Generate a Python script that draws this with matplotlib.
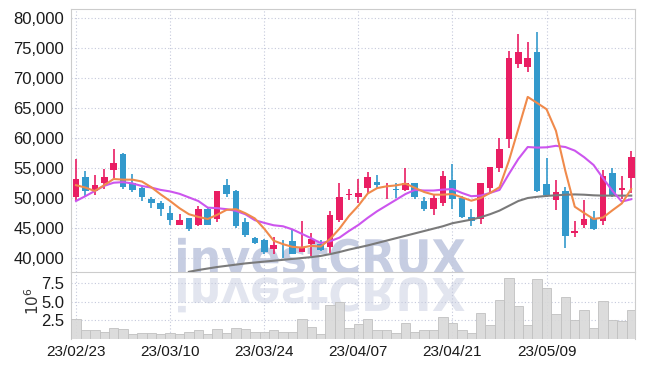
import numpy as np
import matplotlib.pyplot as plt
from matplotlib.textpath import TextPath
from matplotlib.patches import PathPatch
from matplotlib.font_manager import FontProperties
from matplotlib.transforms import Affine2D

plt.rcParams['font.family'] = ['Liberation Sans Narrow', 'Liberation Sans', 'DejaVu Sans']

# daily OHLC (KRW), 60 trading days from 23/02/23
opens = [50200, 53500, 51170, 52430, 54600, 57400, 52430, 51740, 49800, 49110,
         47460, 45510, 46710, 45570, 48150, 46500, 52200, 51170, 46030, 43290,
         42940, 41570, 42540, 42770, 41060, 42310, 42310, 41860, 46260, 50490,
         50200, 51690, 52640, 51850, 51460, 51400, 52470, 49550, 48150, 49100,
         53030, 49940, 46910, 46460, 51690, 55060, 59780, 72300, 71910, 74380,
         52300, 49610, 51120, 44100, 45450, 46690, 46120, 54160, 51350, 53370]
highs = [56500, 54500, 53860, 54770, 58140, 57450, 54030, 51900, 50200, 49460,
         48710, 47290, 46750, 48600, 48490, 51170, 53170, 51290, 46710, 43460,
         43170, 43570, 43000, 44600, 46200, 44140, 43060, 47800, 52430, 51570,
         53100, 54330, 53820, 52530, 52530, 55000, 52530, 50170, 50510, 54490,
         55620, 50400, 48200, 52580, 55200, 60000, 74440, 77300, 75960, 77700,
         56630, 53030, 51850, 46180, 49720, 47870, 54610, 55060, 53600, 57870]
lows = [49500, 50200, 50490, 51460, 53290, 51570, 51060, 49570, 48310, 47060,
        45570, 45500, 44430, 45340, 45460, 46030, 50140, 45000, 43570, 42310,
        40600, 40710, 40030, 40600, 41000, 40310, 41170, 40890, 46030, 49740,
        49170, 50840, 51690, 49890, 50000, 51120, 49890, 47870, 47250, 48710,
        48200, 46740, 45390, 45730, 51010, 54380, 58310, 71630, 70960, 51010,
        50170, 48030, 41740, 43480, 44940, 44720, 45510, 50170, 49890, 50840]
closes = [53200, 51100, 52200, 53570, 55910, 51910, 51400, 50200, 49110, 48090,
          46370, 46370, 44890, 48090, 45570, 51100, 50710, 45340, 43860, 42490,
          41060, 42200, 42430, 40710, 41630, 43170, 41340, 47230, 50200, 50710,
          50830, 53480, 52130, 51970, 51350, 52420, 50170, 48150, 50000, 53650,
          49830, 46850, 46240, 52470, 55170, 58200, 73370, 74330, 73370, 51120,
          50560, 51070, 43600, 44550, 46570, 44890, 53650, 50560, 51630, 56850]

# volume, millions of shares
volume = [2.72, 1.17, 1.17, 1.00, 1.53, 1.39, 0.73, 0.86, 0.86, 0.73,
          0.86, 0.73, 1.00, 1.17, 0.73, 1.39, 0.86, 1.53, 1.30, 1.00,
          1.00, 1.26, 1.00, 1.00, 2.72, 1.66, 0.73, 4.62, 4.98, 1.53,
          2.06, 2.72, 1.17, 1.26, 0.86, 2.19, 1.00, 1.17, 1.26, 2.99,
          2.19, 1.17, 0.86, 3.52, 1.92, 5.29, 8.16, 4.49, 1.92, 8.03,
          6.84, 3.30, 5.64, 2.50, 3.83, 1.53, 5.15, 2.50, 2.37, 3.96]

# moving average lines
ma_short = [52140, 51740, 51170, 52140, 53170, 53060, 53060, 52750, 51800, 50600,
            49500, 48300, 47300, 46850, 46500, 47200, 48030, 48140, 47460, 46600,
            44890, 42890, 42310, 41860, 41740, 42030, 41910, 43170, 44900, 47000,
            48700, 50750, 51650, 51950, 52100, 52400, 51700, 51000, 50560, 50560,
            50670, 50110, 49550, 50000, 50840, 51800, 56200, 61500, 66850, 65840,
            64800, 61200, 54500, 48550, 47500, 46500, 46750, 47950, 49100, 51500]
ma_mid = [49500, 50310, 51170, 52030, 52550, 52650, 52430, 52000, 51740, 51350,
          51100, 50700, 50100, 49500, 48400, 48310, 48140, 47860, 47290, 46310,
          45860, 45460, 45290, 44770, 44030, 43290, 42490, 42800, 43400, 44500,
          45500, 46700, 47800, 48750, 49700, 50650, 51350, 51250, 51250, 51400,
          51500, 50850, 50300, 50400, 50850, 51350, 54000, 56500, 58500, 58400,
          58450, 58700, 58500, 57900, 56800, 55500, 53300, 51200, 49400, 49800]
ma_long = [np.nan] * 12 + [
          37700, 38000, 38250, 38500, 38700, 38900, 39100, 39250,
          39400, 39550, 39700, 39850, 40000, 40150, 40350, 40650, 41000, 41400,
          41750, 42100, 42500, 42900, 43300, 43700, 44100, 44500, 44900, 45300,
          45800, 46100, 46400, 46800, 47300, 47900, 48700, 49500, 50000, 50200,
          50350, 50450, 50550, 50600, 50550, 50450, 50400, 50400, 50400, 50400]

date_pos = [0, 10, 20, 30, 40, 50]
date_labels = ['23/02/23', '23/03/10', '23/03/24', '23/04/07', '23/04/21', '23/05/09']
price_ticks = [40000, 45000, 50000, 55000, 60000, 65000, 70000, 75000, 80000]
vol_ticks = [2.5, 5.0, 7.5]

UP = '#e91e63'
DOWN = '#3399cc'
GRID = '#c5c9dc'
SPINE = '#cccccc'

W, H = 645, 366
fig = plt.figure(figsize=(W / 100, H / 100), dpi=100)
ax = fig.add_axes([71 / W, 1 - 272 / H, (635 - 71) / W, (272 - 9) / H])
axv = fig.add_axes([71 / W, 1 - 339 / H, (635 - 71) / W, (339 - 272) / H], sharex=ax)

x = np.arange(len(opens))
o = np.array(opens)
c = np.array(closes)
up = c >= o
cols = np.where(up, UP, DOWN)

# candles
ax.vlines(x, lows, highs, colors=cols, lw=1.2, zorder=3)
ax.bar(x, np.maximum(np.abs(c - o), 120), bottom=np.minimum(o, c), width=0.7,
       color=cols, zorder=4)

ax.plot(x, ma_long, color='#7a7a7a', lw=1.5, zorder=5)
ax.plot(x, ma_mid, color='#cc55ee', lw=1.5, zorder=5)
ax.plot(x, ma_short, color='#f08a4b', lw=1.5, zorder=6)

axv.bar(x, volume, width=1.0, color='#d9d9d9', edgecolor='#c2c2c2', lw=0.7,
        alpha=0.9, zorder=3)

ax.set_xlim(-0.53, 59.4)
ax.set_ylim(37670, 81500)
axv.set_ylim(0, 9.0)

ax.set_yticks(price_ticks)
ax.set_yticklabels([f'{t:,}' for t in price_ticks])
axv.set_yticks(vol_ticks)
axv.set_yticklabels([f'{t:.1f}' for t in vol_ticks])
axv.set_xticks(date_pos)
axv.set_xticklabels(date_labels)

for a in (ax, axv):
    a.set_facecolor('none')
    a.set_axisbelow(True)
    a.grid(True, linestyle=(0, (1, 2)), color=GRID, lw=0.8)
    a.tick_params(length=0, labelsize=12, colors='#1a1a1a', pad=5)
    for s in a.spines.values():
        s.set_color(SPINE)
ax.tick_params(axis='x', labelbottom=False)
axv.spines['top'].set_visible(False)
axv.spines['bottom'].set_visible(False)
axv.tick_params(axis='x', pad=4, labelsize=11)

fig.text(33 / W, 1 - 301 / H, r'$10^{6}$', rotation=90, ha='center', va='center',
         fontsize=11, color='#333333')

# watermark with reflection
fp = FontProperties(family='DejaVu Sans', weight='bold')
tp = TextPath((0, 0), 'investCRUX', size=100, prop=fp)
cap = TextPath((0, 0), 'CRUX', size=100, prop=fp).get_extents().height
ext = tp.get_extents()
sx = 287 / ext.width
sy = 36 / cap
tr = Affine2D().translate(-ext.x0, 0).scale(sx, sy).translate(178, H - 274)
wm = PathPatch(tp, transform=tr, fc='#c6cde2', ec='none', zorder=-1)
fig.add_artist(wm)
wm.set_clip_path(ax.patch)
tr2 = Affine2D().translate(-ext.x0, 0).scale(sx, -sy * 0.95).translate(178, H - 278)
wm2 = PathPatch(tp, transform=tr2, fc='#e2e5ef', ec='none', zorder=-1)
fig.add_artist(wm2)
wm2.set_clip_path(axv.patch)

fig.savefig('out.png', dpi=100, facecolor='white')
